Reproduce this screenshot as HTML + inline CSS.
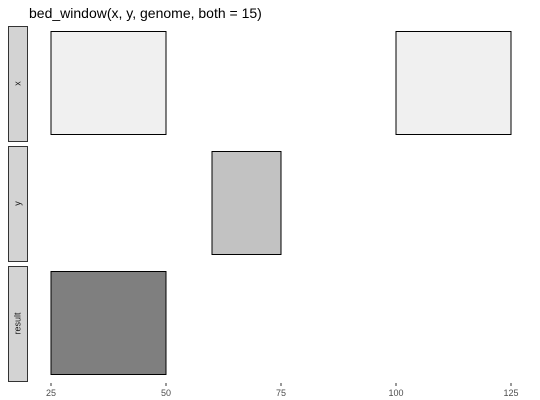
<!DOCTYPE html>
<html><head><meta charset="utf-8"><style>
html,body{margin:0;padding:0;background:#fff;}
svg{display:block;font-family:"Liberation Sans",sans-serif;}
</style></head><body>
<svg id="chart" width="540" height="400" viewBox="0 0 540 400">
<text x="29" y="18" font-size="14" fill="#000">bed_window(x, y, genome, both = 15)</text>
</svg>
<script>
const facets = ["x", "y", "result"];
const facetFills = ["#f0f0f0", "#c2c2c2", "#7f7f7f"];
const intervalFacet = [0, 0, 1, 2];
const intervalStart = [25, 100, 60, 25];
const intervalEnd = [50, 125, 75, 50];
const xTicks = [25, 50, 75, 100, 125];

const NS = "http://www.w3.org/2000/svg";
const svg = document.getElementById("chart");
function xScale(v){ return 51 + (v - 25) * 4.6; }
const panelTop = [26, 146, 266], panelH = 115;
function mk(tag, attrs){ const e = document.createElementNS(NS, tag); for (const k in attrs) e.setAttribute(k, attrs[k]); svg.appendChild(e); return e; }

facets.forEach((f, i) => {
  const s = mk("rect", {x: 8.5, y: panelTop[i] + 0.5, width: 19, height: panelH, fill: "#d3d3d3", stroke: "#333", "stroke-width": 1});
  
  
  const cx = 18, cy = panelTop[i] + panelH / 2;
  const t = mk("text", {x: cx, y: cy, "font-size": 9, fill: "#1a1a1a", "text-anchor": "middle", "dominant-baseline": "middle", transform: "rotate(-90 " + cx + " " + cy + ")"});
  t.textContent = f;
  
  
});

intervalStart.forEach((s, i) => {
  const fi = intervalFacet[i];
  const x0 = xScale(s), x1 = xScale(intervalEnd[i]);
  const r = mk("rect", {x: x0, y: panelTop[fi] + 5.5, width: x1 - x0, height: 103, fill: facetFills[fi], stroke: "#000", "stroke-width": 1});
  
  
});

xTicks.forEach(v => {
  const x = xScale(v);
  const l = mk("line", {x1: x, x2: x, y1: 383, y2: 386, stroke: "#333", "stroke-width": 1});
  
  
  const t = mk("text", {x: x, y: 396, "font-size": 9, fill: "#4d4d4d", "text-anchor": "middle"});
  t.textContent = v;
  
  
});
</script>
</body></html>
